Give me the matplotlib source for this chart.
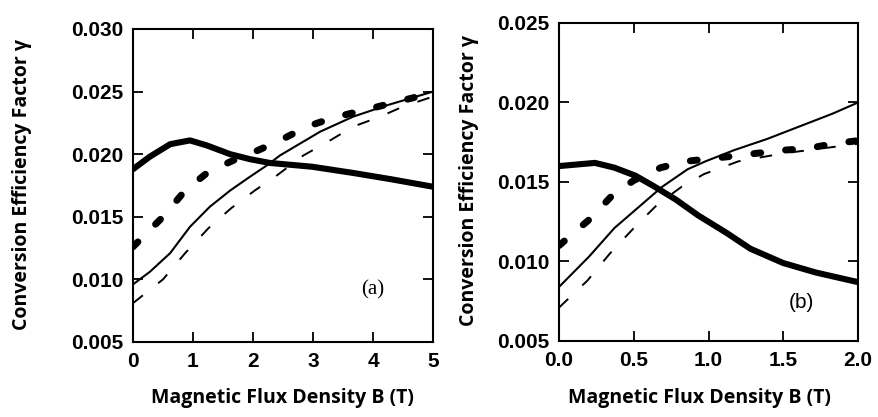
import matplotlib
matplotlib.use("Agg")
import matplotlib.pyplot as plt
from matplotlib.font_manager import FontProperties

# panel (a): B from 0 to 5 T
b_thick_solid_a = [0.0, 0.28, 0.62, 0.95, 1.23, 1.62, 1.95, 2.28, 2.98, 3.67, 4.3, 5.0]
thick_solid_a = [0.0188, 0.0198, 0.0208, 0.0211, 0.0207, 0.0200, 0.0196, 0.0193, 0.0190, 0.0185, 0.0180, 0.0174]
b_thin_solid_a = [0.0, 0.28, 0.62, 0.95, 1.28, 1.62, 1.95, 2.23, 2.45, 3.12, 3.67, 4.23, 5.0]
thin_solid_a = [0.0096, 0.0106, 0.0121, 0.0142, 0.0158, 0.0171, 0.0182, 0.0191, 0.0199, 0.0218, 0.0230, 0.0239, 0.0250]
b_thick_dash_a = [0.0, 0.5, 0.87, 1.26, 1.67, 2.08, 2.45, 2.9, 3.33, 3.75, 4.17, 4.83, 5.0]
thick_dash_a = [0.0126, 0.0150, 0.0171, 0.0186, 0.0195, 0.0203, 0.0211, 0.0222, 0.0229, 0.0234, 0.0239, 0.0247, 0.0249]
b_thin_dash_a = [0.0, 0.5, 0.87, 1.26, 1.64, 2.03, 2.37, 2.84, 3.25, 3.67, 4.12, 4.5, 5.0]
thin_dash_a = [0.0081, 0.0100, 0.0121, 0.0141, 0.0157, 0.0171, 0.0182, 0.0199, 0.0210, 0.0222, 0.0230, 0.0238, 0.0246]

# panel (b): B from 0 to 2 T
b_thick_solid_b = [0.0, 0.24, 0.37, 0.51, 0.64, 0.78, 0.93, 1.12, 1.28, 1.5, 1.72, 2.0]
thick_solid_b = [0.0160, 0.0162, 0.0159, 0.0154, 0.0147, 0.0139, 0.0129, 0.0118, 0.0108, 0.0099, 0.0093, 0.0087]
b_thin_solid_b = [0.0, 0.2, 0.37, 0.53, 0.69, 0.86, 0.98, 1.17, 1.39, 1.61, 1.83, 2.0]
thin_solid_b = [0.0084, 0.0103, 0.0121, 0.0134, 0.0147, 0.0158, 0.0163, 0.0170, 0.0177, 0.0185, 0.0193, 0.0200]
b_thick_dash_b = [0.0, 0.21, 0.36, 0.5, 0.68, 0.85, 1.14, 1.32, 1.5, 1.66, 1.83, 2.0]
thick_dash_b = [0.0110, 0.0127, 0.0142, 0.0151, 0.0159, 0.0163, 0.0166, 0.0168, 0.0170, 0.0171, 0.0174, 0.0176]
b_thin_dash_b = [0.0, 0.19, 0.34, 0.51, 0.66, 0.82, 0.97, 1.2, 1.5, 2.0]
thin_dash_b = [0.0071, 0.0088, 0.0105, 0.0122, 0.0136, 0.0147, 0.0155, 0.0163, 0.0168, 0.0174]

yticks_a = [0.005, 0.010, 0.015, 0.020, 0.025, 0.030]
yticks_b = [0.005, 0.010, 0.015, 0.020, 0.025]
xticks_a = [0, 1, 2, 3, 4, 5]
xticks_b = [0.0, 0.5, 1.0, 1.5, 2.0]

fig = plt.figure(figsize=(8.79, 4.17), dpi=100)
ax1 = fig.add_axes([0.1513, 0.1799, 0.3413, 0.7506])
ax2 = fig.add_axes([0.636, 0.1823, 0.3402, 0.7626])

tick_fp = FontProperties(family="Liberation Sans", size=15, weight="bold")
label_font = dict(family="Open Sans", size=14, weight="bold")


def draw(ax, curves):
    (xs, ys), (xn, yn), (xd, yd), (xe, ye) = curves
    ax.plot(xs, ys, color="black", lw=4.4, solid_capstyle="round", solid_joinstyle="round")
    ax.plot(xn, yn, color="black", lw=1.5, solid_joinstyle="round")
    ax.plot(xd, yd, color="black", lw=5.0, dashes=(1.0, 3.6), dash_capstyle="round")
    ax.plot(xe, ye, color="black", lw=1.4, dashes=(6.5, 10.0))
    for s in ax.spines.values():
        s.set_linewidth(1.5)
    ax.tick_params(direction="in", top=True, right=True, length=7, width=1.3, pad=7)
    for t in ax.get_xticklabels() + ax.get_yticklabels():
        t.set_fontproperties(tick_fp)


ax1.set_xlim(0, 5)
ax1.set_ylim(0.005, 0.030)
ax1.set_xticks(xticks_a)
ax1.set_yticks(yticks_a)
ax1.set_xticklabels([str(v) for v in xticks_a])
ax1.set_yticklabels([f"{v:.3f}" for v in yticks_a])
draw(ax1, [(b_thick_solid_a, thick_solid_a), (b_thin_solid_a, thin_solid_a),
           (b_thick_dash_a, thick_dash_a), (b_thin_dash_a, thin_dash_a)])
ax1.text(4.0, 0.0092, "(a)", family="Liberation Serif", fontsize=15, ha="center", va="center")

ax2.set_xlim(0, 2)
ax2.set_ylim(0.005, 0.025)
ax2.set_xticks(xticks_b)
ax2.set_yticks(yticks_b)
ax2.set_xticklabels([f"{v:.1f}" for v in xticks_b])
ax2.set_yticklabels([f"{v:.3f}" for v in yticks_b])
draw(ax2, [(b_thick_solid_b, thick_solid_b), (b_thin_solid_b, thin_solid_b),
           (b_thick_dash_b, thick_dash_b), (b_thin_dash_b, thin_dash_b)])
ax2.text(1.62, 0.0074, "(b)", family="Liberation Sans", fontsize=15, ha="center", va="center")

fig.text(282 / 879, 1 - 398 / 417, "Magnetic Flux Density B (T)", ha="center", va="center", **label_font)
fig.text(699 / 879, 1 - 398 / 417, "Magnetic Flux Density B (T)", ha="center", va="center", **label_font)
fig.text(22 / 879, 1 - 184 / 417, "Conversion Efficiency Factor γ", rotation=90,
         ha="center", va="center", **label_font)
fig.text(469 / 879, 1 - 180 / 417, "Conversion Efficiency Factor γ", rotation=90,
         ha="center", va="center", **label_font)

fig.savefig("out.png", dpi=100)
